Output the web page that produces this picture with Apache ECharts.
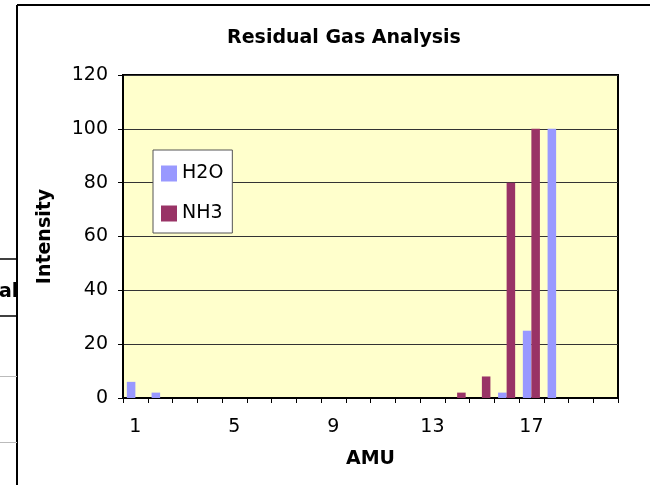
<!DOCTYPE html>
<html style="height: 100%">
<head>
<meta charset="utf-8">
<script src="https://cdn.jsdelivr.net/npm/echarts@6/dist/echarts.min.js"></script>
</head>
<body style="height: 100%; margin: 0; background: #fff">
<div id="container" style="width: 650px; height: 485px"></div>
<script type="text/javascript">

// AMU 1..20
var amu = [];
for (var i = 1; i <= 20; i++) amu.push(String(i));

var h2o = [6, 2, 0, 0, 0, 0, 0, 0, 0, 0, 0, 0, 0, 0, 0, 2, 25, 100, 0, 0];
var nh3 = [0, 0, 0, 0, 0, 0, 0, 0, 0, 0, 0, 0, 0, 2, 8, 80, 100, 0, 0, 0];

var yTicks = [0, 20, 40, 60, 80, 100, 120];

var font = 'DejaVu Sans, sans-serif';

var myChart = echarts.init(document.getElementById('container'));

var option = {
    animation: false,
    title: {
        text: 'Residual Gas Analysis',
        left: 339,
        top: 24,
        textAlign: 'center',
        textStyle: {fontFamily: font, fontSize: 19, fontWeight: 'bold', color: '#000'}
    },
    legend: {
        data: ['H2O', 'NH3'],
        orient: 'vertical',
        left: 153,
        top: 150,
        padding: [14, 9, 10, 8],
        itemGap: 21,
        itemWidth: 16,
        itemHeight: 16,
        icon: 'rect',
        backgroundColor: '#fff',
        borderColor: '#555',
        borderWidth: 1,
        textStyle: {fontFamily: font, fontSize: 19, color: '#000'}
    },
    grid: {
        left: 123,
        right: 32,
        top: 75,
        bottom: 87,
        show: true,
        backgroundColor: '#FFFFCC',
        borderColor: '#000',
        borderWidth: 2
    },
    xAxis: {
        type: 'category',
        data: amu,
        name: 'AMU',
        nameLocation: 'middle',
        nameGap: 52,
        nameTextStyle: {fontFamily: font, fontSize: 19, fontWeight: 'bold', color: '#000'},
        axisLine: {lineStyle: {color: '#000', width: 2}},
        axisTick: {show: true, interval: 0, length: 5, lineStyle: {color: '#000', width: 1}},
        axisLabel: {interval: 3, margin: 20, fontFamily: font, fontSize: 19, color: '#000'},
        splitLine: {show: false}
    },
    yAxis: {
        type: 'value',
        min: yTicks[0],
        max: yTicks[yTicks.length - 1],
        interval: 20,
        name: 'Intensity',
        nameLocation: 'middle',
        nameGap: 68,
        nameRotate: 90,
        nameTextStyle: {fontFamily: font, fontSize: 19, fontWeight: 'bold', color: '#000'},
        axisLine: {show: true, lineStyle: {color: '#000', width: 2}},
        axisTick: {show: true, length: 5, inside: false, lineStyle: {color: '#000'}},
        axisLabel: {margin: 15, fontFamily: font, fontSize: 19, color: '#000'},
        splitLine: {lineStyle: {color: '#333', width: 1}}
    },
    series: [
        {
            name: 'H2O',
            type: 'bar',
            data: h2o,
            barGap: '0%',
            barCategoryGap: '31%',
            itemStyle: {color: '#9999FF'}
        },
        {
            name: 'NH3',
            type: 'bar',
            data: nh3,
            itemStyle: {color: '#993366'}
        }
    ],
    graphic: [
        // chart frame
        {type: 'line', shape: {x1: 17, y1: 5, x2: 650, y2: 5}, style: {stroke: '#000', lineWidth: 2}},
        {type: 'line', shape: {x1: 17, y1: 5, x2: 17, y2: 485}, style: {stroke: '#000', lineWidth: 2}},
        // spreadsheet bits left of the chart
        {type: 'line', shape: {x1: 0, y1: 259, x2: 17, y2: 259}, style: {stroke: '#000', lineWidth: 1.5}},
        {type: 'line', shape: {x1: 0, y1: 316, x2: 17, y2: 316}, style: {stroke: '#000', lineWidth: 1.5}},
        {type: 'line', shape: {x1: 0, y1: 376.5, x2: 17, y2: 376.5}, style: {stroke: '#bbb', lineWidth: 1}},
        {type: 'line', shape: {x1: 0, y1: 442.5, x2: 17, y2: 442.5}, style: {stroke: '#bbb', lineWidth: 1}},
        {type: 'text', left: -1, top: 283, style: {text: 'al', font: 'bold 19px ' + font, fill: '#000'}}
    ]
};

myChart.setOption(option);

</script>
</body>
</html>
